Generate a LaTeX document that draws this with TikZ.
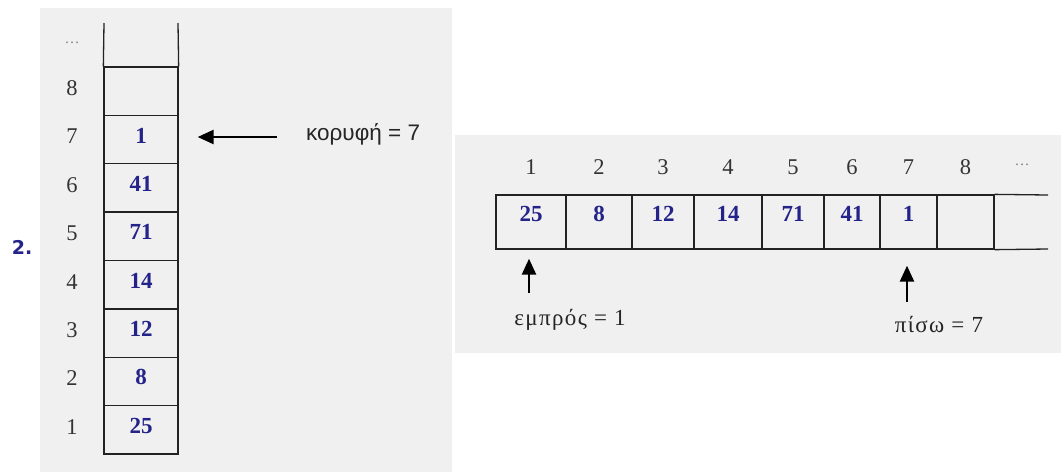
\documentclass[tikz,border=0pt]{standalone}
\usepackage{fontspec}
\setmainfont{Liberation Serif}
\newfontfamily\arialf{Liberation Sans}
\newfontfamily\boldsans{DejaVu Sans}
\newfontfamily\greekserif[LetterSpace=6]{Liberation Serif}
\usetikzlibrary{arrows.meta}
\definecolor{bgpanel}{HTML}{F0F0F0}
\definecolor{valblue}{HTML}{23238A}
\definecolor{idxgray}{HTML}{333333}
\definecolor{linecol}{HTML}{222222}
\tikzset{
  panel/.style={fill=bgpanel, draw=none},
  cell/.style={draw=linecol, line width=1.3pt, inner sep=0pt, minimum height=#1},
  idx/.style={text=idxgray, font=\fontsize{22.5}{22.5}\selectfont, inner sep=0pt},
  val/.style={text=valblue, font=\fontsize{23}{23}\selectfont\bfseries, inner sep=0pt},
  dots/.style={text=gray, font=\fontsize{15}{15}\selectfont, inner sep=0pt},
  ptr/.style={draw=black, line width=2.4pt, -{Triangle[length=16pt,width=14pt]}},
  lbl/.style={text=black!85, inner sep=0pt},
}
\begin{document}
\begin{tikzpicture}[x=1pt,y=-1pt]
\useasboundingbox (0,0) rectangle (1061,475);
% panels
\fill[panel] (40,8) rectangle (452,472);
\fill[panel] (455,135) rectangle (1061,353);

% title
\node[text=valblue, font=\boldsans\bfseries\fontsize{19}{19}\selectfont, inner sep=0pt] (title) at (22,247) {2.};

% ---- stack ----
\foreach \i/\v in {1/25,2/8,3/12,4/14,5/71,6/41,7/1,8/{}} {
  \node[cell=48.4pt, minimum width=74pt] (s\i) at (141,{454-(\i-0.5)*48.375}) {};
  \node[idx] (si\i) at (72,{454-(\i-0.5)*48.375-3}) {\i};
  \node[val] (sv\i) at ([yshift=4pt]s\i.center) {\v};
}
\coordinate (stl) at (104,23);
\coordinate (str) at (178,23);
\draw[linecol, line width=1.3pt] (s8.north west) -- (stl);
\draw[linecol, line width=1.3pt] (s8.north east) -- (str);
\node[dots] (sdots) at (72,43) {\ldots};

\node[lbl, font=\arialf\fontsize{22.5}{22.5}\selectfont, anchor=west] (top) at (306,134) {κορυφή = 7};
\coordinate (topstart) at (277,137);
\draw[ptr, shorten >=19pt] (topstart) -- (topstart -| s7.east);

% ---- queue ----
\foreach \i/\a/\b/\v in {1/496/566/25,2/566/632/8,3/632/694/12,4/694/762/14,5/762/824/71,6/824/880/41,7/880/937/1,8/937/994/{}} {
  \node[cell=54pt, minimum width={(\b-\a)*1pt}] (q\i) at ({(\a+\b)/2},222) {};
  \node[idx] (qi\i) at ({(\a+\b)/2},167) {\i};
  \node[val] (qv\i) at ([yshift=8pt]q\i.center) {\v};
}
\coordinate (qtr) at (1048,195);
\coordinate (qbr) at (1048,249);
\draw[linecol, line width=1.3pt] (q8.north east) -- (qtr);
\draw[linecol, line width=1.3pt] (q8.south east) -- (qbr);
\node[dots] (qdots) at (1022,165) {\ldots};

\node[lbl, font=\greekserif\fontsize{23}{23}\selectfont] (front) at (570,320) {εμπρός = 1};
\node[lbl, font=\greekserif\fontsize{23}{23}\selectfont] (rear) at (939,324) {πίσω = 7};
\coordinate (fa) at (529,293);
\coordinate (ra) at (907,302);
\draw[ptr, shorten >=9pt] (fa) -- (fa |- q1.south);
\draw[ptr, shorten >=16pt] (ra) -- (ra |- q7.south);
\end{tikzpicture}
\end{document}
